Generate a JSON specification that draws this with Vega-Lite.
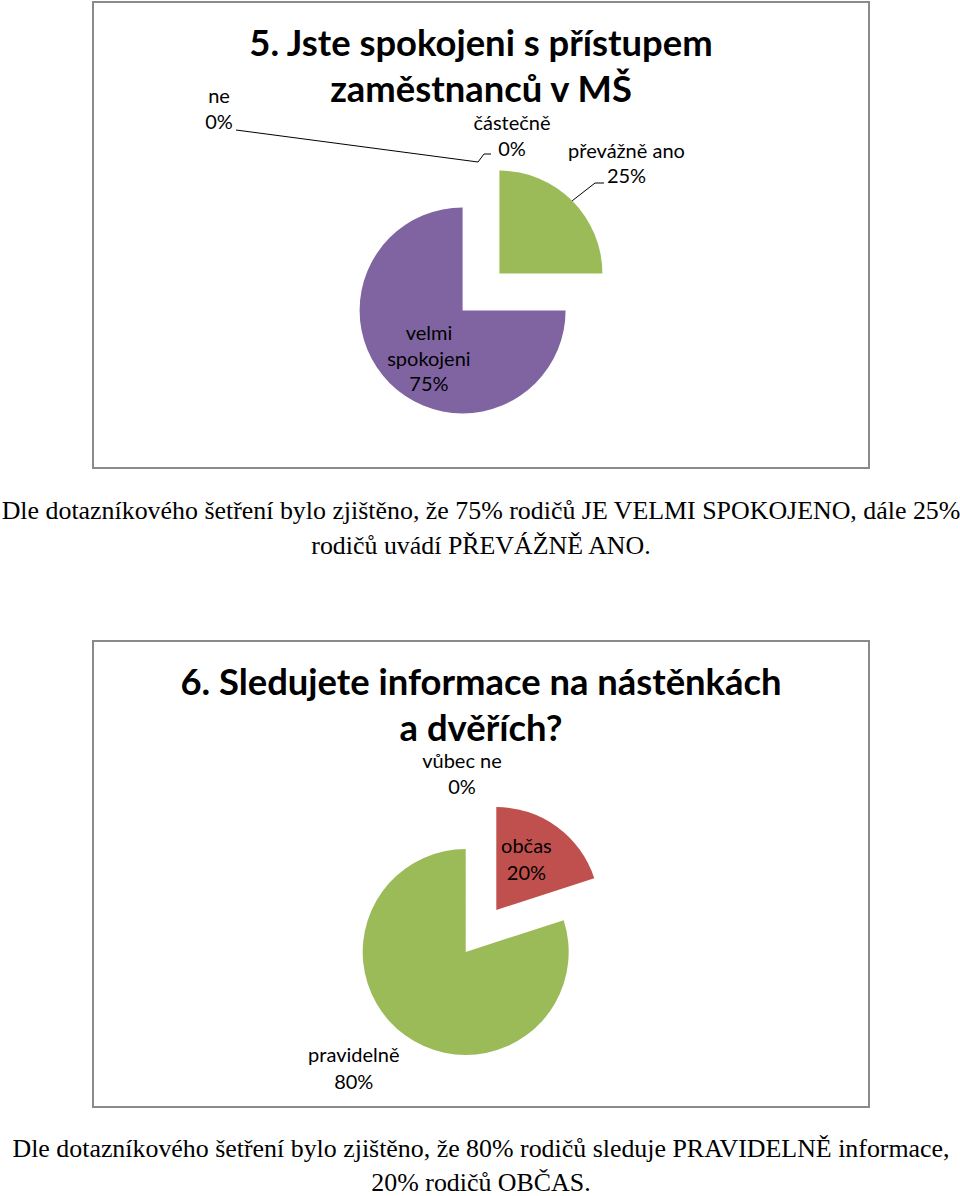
{
  "$schema": "https://vega.github.io/schema/vega-lite/v6.json",
  "background": "#ffffff",
  "padding": {"left": 1, "top": 1, "right": 0, "bottom": 0},
  "bounds": "flush",
  "spacing": 173,
  "resolve": {"scale": {"color": "independent", "theta": "independent"}},
  "config": {
    "view": {"stroke": null},
    "text": {"lineBreak": "\n", "font": "Lato", "color": "#000000"}
  },
  "datasets": {
    "q5": [
      {"odpoved": "ne", "procento": 0, "poradi": 1, "popisek": "ne\n0%"},
      {"odpoved": "částečně", "procento": 0, "poradi": 2, "popisek": "částečně\n0%"},
      {"odpoved": "převážně ano", "procento": 25, "poradi": 3, "popisek": "převážně ano\n25%"},
      {"odpoved": "velmi spokojeni", "procento": 75, "poradi": 4, "popisek": "velmi\nspokojeni\n75%"}
    ],
    "q6": [
      {"odpoved": "vůbec ne", "procento": 0, "poradi": 1, "popisek": "vůbec ne\n0%"},
      {"odpoved": "občas", "procento": 20, "poradi": 2, "popisek": "občas\n20%"},
      {"odpoved": "pravidelně", "procento": 80, "poradi": 3, "popisek": "pravidelně\n80%"}
    ],
    "texty5": [
      {"nadpis": "5. Jste spokojeni s přístupem\nzaměstnanců v MŠ", "odstavec": "Dle dotazníkového šetření bylo zjištěno, že 75% rodičů JE VELMI SPOKOJENO, dále 25%\nrodičů uvádí PŘEVÁŽNĚ ANO."}
    ],
    "texty6": [
      {"nadpis": "6. Sledujete informace na nástěnkách\na dvěřích?", "odstavec": "Dle dotazníkového šetření bylo zjištěno, že 80% rodičů sleduje PRAVIDELNĚ informace,\n20% rodičů OBČAS."}
    ]
  },
  "vconcat": [
    {
      "width": 776,
      "height": 466,
      "layer": [
        {
          "data": {"name": "texty5"},
          "layer": [
            {
              "mark": {"type": "rect", "filled": false, "color": "#8a8a8a", "strokeWidth": 2},
              "encoding": {"x": {"value": 0}, "x2": {"value": "width"}, "y": {"value": 0}, "y2": {"value": "height"}}
            },
            {
              "mark": {"type": "text", "x": 388, "y": 54, "align": "center", "baseline": "alphabetic", "font": "Lato", "fontSize": 36.4, "fontWeight": "bold", "lineHeight": 45.5},
              "encoding": {"text": {"field": "nadpis", "type": "nominal"}}
            },
            {
              "mark": {"type": "text", "x": 388, "y": 517, "align": "center", "baseline": "alphabetic", "font": "Liberation Serif", "fontSize": 25.9, "lineHeight": 35},
              "encoding": {"text": {"field": "odstavec", "type": "nominal"}}
            }
          ]
        },
        {
          "data": {"name": "q5"},
          "encoding": {
            "theta": {"field": "procento", "type": "quantitative", "stack": true},
            "order": {"field": "poradi", "type": "quantitative"}
          },
          "layer": [
            {
              "mark": {"type": "arc", "radius": 103, "x": 406.4, "y": 271.6},
              "encoding": {
                "color": {"field": "odpoved", "type": "nominal", "legend": null,
                  "scale": {"domain": ["ne", "částečně", "převážně ano", "velmi spokojeni"], "range": ["#4F81BD", "#C0504D", "#9BBB59", "#8064A2"]}},
                "opacity": {"condition": {"test": "datum.odpoved === 'převážně ano'", "value": 1}, "value": 0}
              }
            },
            {
              "mark": {"type": "arc", "radius": 103, "x": 369.6, "y": 308.4},
              "encoding": {
                "color": {"field": "odpoved", "type": "nominal", "legend": null,
                  "scale": {"domain": ["ne", "částečně", "převážně ano", "velmi spokojeni"], "range": ["#4F81BD", "#C0504D", "#9BBB59", "#8064A2"]}},
                "opacity": {"condition": {"test": "datum.odpoved === 'velmi spokojeni'", "value": 1}, "value": 0}
              }
            },
            {
              "mark": {"type": "text", "radius": 189, "dx": -262, "x": 388, "y": 290, "align": "center", "baseline": "alphabetic", "fontSize": 20, "lineHeight": 26},
              "encoding": {
                "text": {"field": "popisek", "type": "nominal"},
                "opacity": {"condition": {"test": "datum.odpoved === 'ne'", "value": 1}, "value": 0}
              }
            },
            {
              "mark": {"type": "text", "radius": 162, "dx": 31, "x": 388, "y": 290, "align": "center", "baseline": "alphabetic", "fontSize": 20, "lineHeight": 26},
              "encoding": {
                "text": {"field": "popisek", "type": "nominal"},
                "opacity": {"condition": {"test": "datum.odpoved === 'částečně'", "value": 1}, "value": 0}
              }
            },
            {
              "mark": {"type": "text", "radius": 189.5, "dx": 11.5, "x": 388, "y": 290, "align": "center", "baseline": "alphabetic", "fontSize": 20, "lineHeight": 25},
              "encoding": {
                "text": {"field": "popisek", "type": "nominal"},
                "opacity": {"condition": {"test": "datum.odpoved === 'převážně ano'", "value": 1}, "value": 0}
              }
            },
            {
              "mark": {"type": "text", "radius": 68, "dx": -4, "x": 388, "y": 290, "align": "center", "baseline": "alphabetic", "fontSize": 20, "lineHeight": 25.5},
              "encoding": {
                "text": {"field": "popisek", "type": "nominal"},
                "opacity": {"condition": {"test": "datum.odpoved === 'velmi spokojeni'", "value": 1}, "value": 0}
              }
            }
          ]
        },
        {
          "data": {"name": "q5"},
          "transform": [{"filter": "datum.odpoved === 'ne'"}],
          "layer": [
            {"mark": {"type": "rule", "color": "#000000", "strokeWidth": 1}, "encoding": {"x": {"value": 143}, "y": {"value": 128}, "x2": {"value": 385}, "y2": {"value": 160}}},
            {"mark": {"type": "rule", "color": "#000000", "strokeWidth": 1}, "encoding": {"x": {"value": 385}, "y": {"value": 160}, "x2": {"value": 391}, "y2": {"value": 152}}},
            {"mark": {"type": "rule", "color": "#000000", "strokeWidth": 1}, "encoding": {"x": {"value": 391}, "y": {"value": 152}, "x2": {"value": 398}, "y2": {"value": 152}}}
          ]
        },
        {
          "data": {"name": "q5"},
          "transform": [{"filter": "datum.odpoved === 'převážně ano'"}],
          "layer": [
            {"mark": {"type": "rule", "color": "#000000", "strokeWidth": 1}, "encoding": {"x": {"value": 479.2}, "y": {"value": 198.8}, "x2": {"value": 502}, "y2": {"value": 181}}},
            {"mark": {"type": "rule", "color": "#000000", "strokeWidth": 1}, "encoding": {"x": {"value": 502}, "y": {"value": 181}, "x2": {"value": 511}, "y2": {"value": 181}}}
          ]
        }
      ]
    },
    {
      "width": 776,
      "height": 466,
      "layer": [
        {
          "data": {"name": "texty6"},
          "layer": [
            {
              "mark": {"type": "rect", "filled": false, "color": "#8a8a8a", "strokeWidth": 2},
              "encoding": {"x": {"value": 0}, "x2": {"value": "width"}, "y": {"value": 0}, "y2": {"value": "height"}}
            },
            {
              "mark": {"type": "text", "x": 388, "y": 54, "align": "center", "baseline": "alphabetic", "font": "Lato", "fontSize": 36.4, "fontWeight": "bold", "lineHeight": 45.5},
              "encoding": {"text": {"field": "nadpis", "type": "nominal"}}
            },
            {
              "mark": {"type": "text", "x": 388, "y": 516, "align": "center", "baseline": "alphabetic", "font": "Liberation Serif", "fontSize": 25.9, "lineHeight": 33.5},
              "encoding": {"text": {"field": "odstavec", "type": "nominal"}}
            }
          ]
        },
        {
          "data": {"name": "q6"},
          "encoding": {
            "theta": {"field": "procento", "type": "quantitative", "stack": true},
            "order": {"field": "poradi", "type": "quantitative"}
          },
          "layer": [
            {
              "mark": {"type": "arc", "radius": 103, "x": 403.3, "y": 269},
              "encoding": {
                "color": {"field": "odpoved", "type": "nominal", "legend": null,
                  "scale": {"domain": ["vůbec ne", "občas", "pravidelně"], "range": ["#4F81BD", "#C0504D", "#9BBB59"]}},
                "opacity": {"condition": {"test": "datum.odpoved === 'občas'", "value": 1}, "value": 0}
              }
            },
            {
              "mark": {"type": "arc", "radius": 103, "x": 372.7, "y": 311},
              "encoding": {
                "color": {"field": "odpoved", "type": "nominal", "legend": null,
                  "scale": {"domain": ["vůbec ne", "občas", "pravidelně"], "range": ["#4F81BD", "#C0504D", "#9BBB59"]}},
                "opacity": {"condition": {"test": "datum.odpoved === 'pravidelně'", "value": 1}, "value": 0}
              }
            },
            {
              "mark": {"type": "text", "radius": 163, "dx": -19, "x": 388, "y": 290, "align": "center", "baseline": "alphabetic", "fontSize": 20, "lineHeight": 26},
              "encoding": {
                "text": {"field": "popisek", "type": "nominal"},
                "opacity": {"condition": {"test": "datum.odpoved === 'vůbec ne'", "value": 1}, "value": 0}
              }
            },
            {
              "mark": {"type": "text", "radius": 96, "dx": -11, "x": 388, "y": 290, "align": "center", "baseline": "alphabetic", "fontSize": 20, "lineHeight": 27},
              "encoding": {
                "text": {"field": "popisek", "type": "nominal"},
                "opacity": {"condition": {"test": "datum.odpoved === 'občas'", "value": 1}, "value": 0}
              }
            },
            {
              "mark": {"type": "text", "radius": 162, "dx": -32, "x": 388, "y": 290, "align": "center", "baseline": "alphabetic", "fontSize": 20, "lineHeight": 27},
              "encoding": {
                "text": {"field": "popisek", "type": "nominal"},
                "opacity": {"condition": {"test": "datum.odpoved === 'pravidelně'", "value": 1}, "value": 0}
              }
            }
          ]
        }
      ]
    }
  ]
}
